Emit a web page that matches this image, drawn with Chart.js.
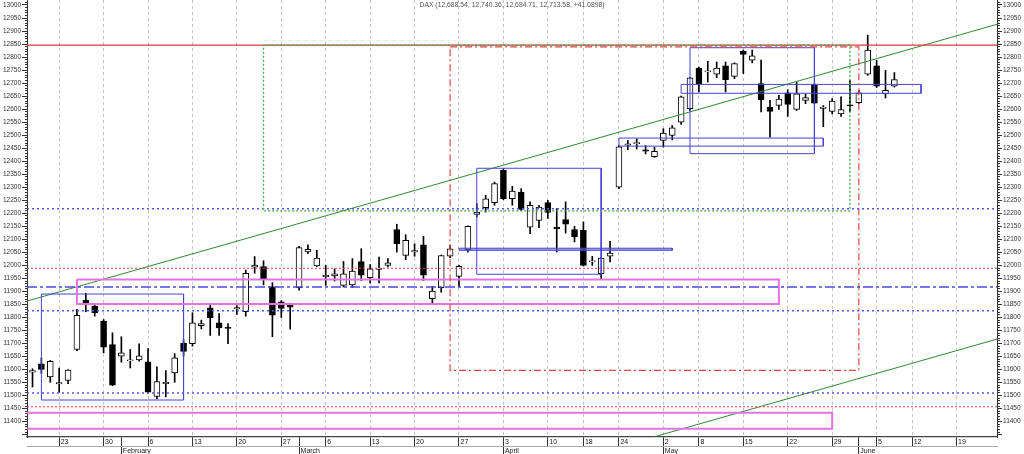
<!DOCTYPE html>
<html><head><meta charset="utf-8">
<script src="https://cdn.jsdelivr.net/npm/chart.js@4.4.1/dist/chart.umd.min.js"></script>
<style>html,body{margin:0;padding:0;background:#fff;}#wrap{width:1024px;height:454px;position:relative;}</style>
</head><body><div id="wrap"><canvas id="c"></canvas></div>
<script>
// ---- data (trading-day index 0 = 18 Jan) ----
const titleText = 'DAX (12,688.54, 12,740.36, 12,684.71, 12,713.58, +41.0898)';
const opens  = [11590,11622,11572,11545,11558,11677,11866,11843,11786,11696,11651,11633,11637,11630,11497,11546,11587,11702,11699,11769,11837,11779,11761,11833,11822,11993,11995,11918,11860,11848,
                11914,12052,11998,11957,11960,11923,11925,12015,11953,11985,12000,12138,12038,12052,12079,11872,11914,12035,11958,12060,12196,12222,12241,12365,12256,12282,12147,12173,12241,12147,
                12176,12138,12135,12013,11968,12035,12300,12462,12467,12444,12418,12480,12499,12550,12602,12758,12743,12734,12766,12726,12823,12788,12698,12608,12614,12663,12599,12634,12692,12603,
                12591,12582,12617,12625,12734,12766,12659,12688.54];
const highs  = [11603,11645,11635,11606,11600,11831,11893,11850,11792,11741,11726,11677,11699,11681,11610,11596,11661,11715,11818,11790,11854,11815,11777,11846,11982,12034,12018,11934,11865,11855,
                12073,12079,12058,12000,11987,12015,12026,12064,12003,12032,12026,12158,12118,12083,12112,11919,12040,12077,12000,12152,12237,12269,12320,12372,12304,12295,12244,12231,12250,12218,
                12244,12150,12167,12035,12030,12092,12460,12480,12486,12460,12454,12525,12537,12650,12722,12762,12784,12781,12781,12778,12827,12827,12788,12634,12653,12675,12704,12659,12698,12614,
                12640,12647,12711,12672,12884,12788,12749,12740.36];
const lows   = [11533,11585,11551,11513,11546,11673,11822,11805,11664,11538,11628,11606,11632,11510,11487,11495,11551,11651,11690,11756,11731,11731,11699,11812,11805,11970,11925,11726,11800,11755,
                11905,12045,11995,11923,11940,11917,11915,11942,11933,11933,11994,12051,12022,12035,11942,11850,11897,12030,11917,12051,12186,12205,12231,12252,12231,12210,12122,12145,12180,12051,
                12124,12090,11998,12000,11945,12013,12295,12444,12447,12428,12415,12454,12482,12541,12595,12666,12704,12721,12666,12717,12737,12778,12589,12492,12599,12572,12595,12621,12621,12533,
                12582,12572,12589,12621,12730,12683,12643,12684.71];
const closes = [11596,11601,11632,11550,11598,11808,11848,11818,11686,11540,11664,11636,11653,11513,11554,11550,11645,11670,11779,11777,11799,11760,11758,11836,11970,12001,11948,11809,11835,11840,
                12068,12062,12028,11959,11968,11968,11978,11962,11987,11988,12010,12083,12096,12055,11962,11901,12038,12064,11996,12150,12205,12256,12314,12256,12285,12215,12231,12224,12203,12140,
                12158,12109,12000,12016,12028,12047,12455,12466,12471,12439,12438,12508,12528,12647,12720,12698,12746,12758,12713,12775,12810,12805,12636,12591,12639,12618,12659,12644,12623,12606,
                12631,12598,12612,12663,12827,12688,12672,12713.58];

const weekTickIdx    = [3,8,13,18,23,28,33,38,43,48,53,58,62,66,71,75,80,85,90,95,99,104];
const weekTickLabels = ['23','30','6','13','20','27','6','13','20','27','3','10','18','24','2','8','15','22','29','5','12','19'];
const monthTickIdx    = [10,30,53,71,93];
const monthTickLabels = ['February','March','April','May','June'];

// drawn studies (index / price coordinates)
const redSolidLevels    = [12846];
const redDottedLevels   = [11989, 11457];
const blueDottedLevels  = [12218, 11826, 11510];
const blueDashDotLevels = [11917];
const blueBoxes   = [[1,17,11890,11483],[50,64,12373,11966],[74,88,12836,12429],[73,100,12695,12661],[66,89,12489,12458]];
const blueBarBox  = [48,72,12066,12058];
const magentaBoxes = [[5,84,11946,11852],[-1,90,11434,11373]];
const greenDottedBox = [26,92,12846,12209];
const redDashDotBox  = [47,93,12839,11597];
const trendUpper = [[-0.62,11863],[108.55,12926]];
const trendLower = [[70,11342],[108.55,11717]];

const xMin = -0.62, xMax = 108.55, yMin = 11341, yMax = 13019.2;

// ---- build ----
const FONT = 'Liberation Sans';
Chart.defaults.font.family = FONT;
Chart.defaults.animation = false;

const hLine = v => [{x:xMin,y:v},{x:xMax,y:v}];
const boxPts = b => [{x:b[0],y:b[2]},{x:b[1],y:b[2]},{x:b[1],y:b[3]},{x:b[0],y:b[3]},{x:b[0],y:b[2]}];
const segPts = s => s.map(p => ({x:p[0], y:p[1]}));
function lineDs(points, color, width, dash, extra) {
  return Object.assign({type:'line', data:points, borderColor:color, borderWidth:width, borderDash:dash||[],
    pointRadius:0, pointHoverRadius:0, fill:false, tension:0, order:0}, extra||{});
}

const datasets = [];
datasets.push(lineDs(boxPts(greenDottedBox), '#3cae3c', 1.3, [2,2]));
redSolidLevels.forEach(v => datasets.push(lineDs(hLine(v), '#d43c3c', 1.2)));
redDottedLevels.forEach(v => datasets.push(lineDs(hLine(v), '#e84848', 1, [2,2])));
blueDottedLevels.forEach(v => datasets.push(lineDs(hLine(v), '#5656e4', 1.5, [2,3])));
blueDashDotLevels.forEach(v => datasets.push(lineDs(hLine(v), '#4a4ae0', 1.5, [10,3,3,3])));
datasets.push(lineDs(boxPts(redDashDotBox), '#e04848', 1.2, [7,3,2,3]));
magentaBoxes.forEach(b => datasets.push(lineDs(boxPts(b), '#e472e4', 2)));
blueBoxes.forEach(b => datasets.push(lineDs(boxPts(b), '#4444d6', 1)));
datasets.push(lineDs(boxPts(blueBarBox), '#4444d6', 1, [], {fill:'shape', backgroundColor:'rgba(110,110,230,0.6)'}));
datasets.push(lineDs(segPts(trendUpper), '#2e8a2e', 1));
datasets.push(lineDs(segPts(trendLower), '#2e8a2e', 1));

datasets.push({type:'bar', label:'body', order:1, grouped:false, barThickness:6, minBarLength:1.2,
  data: opens.map((o,i) => ({x:i, y:[o, closes[i]]})),
  backgroundColor: opens.map((o,i) => closes[i] >= o ? '#ffffff' : '#000000'),
  borderColor:'#000000', borderWidth:1, borderSkipped:false});
datasets.push({type:'bar', label:'wick', order:2, grouped:false, barThickness:1,
  data: highs.map((h,i) => ({x:i, y:[lows[i], h]})),
  backgroundColor:'#000000', borderWidth:0});

const yTickVals = []; for (let v = 11350; v <= 13010; v += 10) yTickVals.push(v);
const yLabel = v => (v % 50 === 0 && v >= 11400 && v <= 13000) ? String(v) : '';
const dayTicks = weekTickIdx.concat(monthTickIdx.filter(m => !weekTickIdx.includes(m)));

const overlayTitle = {
  id:'overlayTitle',
  afterDraw(chart, args, opts) {
    const {ctx, chartArea} = chart;
    ctx.save();
    ctx.font = opts.size + 'px ' + FONT;
    ctx.fillStyle = opts.color;
    ctx.textAlign = 'center'; ctx.textBaseline = 'middle';
    ctx.fillText(opts.text, (chartArea.left + chartArea.right) / 2, chartArea.top + 5);
    ctx.restore();
  }
};

function yAxis(pos) {
  return {
    type:'linear', position:pos, min:yMin, max:yMax, bounds:'data',
    afterBuildTicks: s => { s.ticks = yTickVals.map(v => ({value:v})); },
    afterFit: s => { s.width = 27; s.paddingTop = 0; s.paddingBottom = 0; },
    ticks:{autoSkip:false, padding:1, color:'#333', font:{size:6.5}, callback: v => yLabel(v)},
    grid:{drawOnChartArea:false, drawTicks:true, tickLength:5, tickColor:'#333', tickWidth:1,
      tickBorderDash: c => (c.tick && c.tick.value % 50 === 0) ? [] : (pos === 'left' ? [0,3,3,20] : [2,20])},
    border:{display:true, color:'#333', width:1}
  };
}

new Chart(document.getElementById('c'), {
  type:'bar',
  data:{datasets},
  plugins:[overlayTitle],
  options:{
    responsive:true, maintainAspectRatio:false, animation:false, devicePixelRatio:1,
    layout:{padding:0},
    plugins:{legend:{display:false}, tooltip:{enabled:false}, title:{display:false},
      overlayTitle:{text:titleText, size:6.8, color:'#555'}},
    scales:{
      x:{type:'linear', position:'bottom', weight:1, min:xMin, max:xMax, offset:false, bounds:'data',
        afterBuildTicks: s => { s.ticks = dayTicks.map(v => ({value:v})); },
        afterFit: s => { s.height = 9; s.paddingLeft = 0; s.paddingRight = 0; },
        ticks:{autoSkip:false, maxRotation:0, minRotation:0, align:'start', padding:-8, labelOffset:1.5,
          color:'#222', font:{size:7},
          callback: v => { const k = weekTickIdx.indexOf(v); return k >= 0 ? weekTickLabels[k] : ''; }},
        grid:{offset:false, drawOnChartArea:true, drawTicks:true, tickLength:9, lineWidth:1,
          color: c => (c.tick && weekTickIdx.includes(c.tick.value)) ? '#c4c4c4' : 'rgba(0,0,0,0)',
          tickColor:'#333', tickBorderDash:[]},
        border:{display:true, color:'#444', width:1.3, dash:[3,3]}
      },
      xm:{type:'linear', position:'bottom', weight:2, min:xMin, max:xMax, offset:false, bounds:'data',
        afterBuildTicks: s => { s.ticks = monthTickIdx.map(v => ({value:v})); },
        afterFit: s => { s.height = 8; s.paddingLeft = 0; s.paddingRight = 0; },
        ticks:{autoSkip:false, maxRotation:0, minRotation:0, align:'start', padding:-7, labelOffset:1.5,
          color:'#222', font:{size:7},
          callback: v => { const k = monthTickIdx.indexOf(v); return k >= 0 ? monthTickLabels[k] : ''; }},
        grid:{offset:false, drawOnChartArea:false, drawTicks:true, tickLength:8, tickColor:'#333'},
        border:{display:true, color:'#aaa', width:1}
      },
      y: yAxis('left'),
      y2: yAxis('right')
    }
  }
});
</script></body></html>
